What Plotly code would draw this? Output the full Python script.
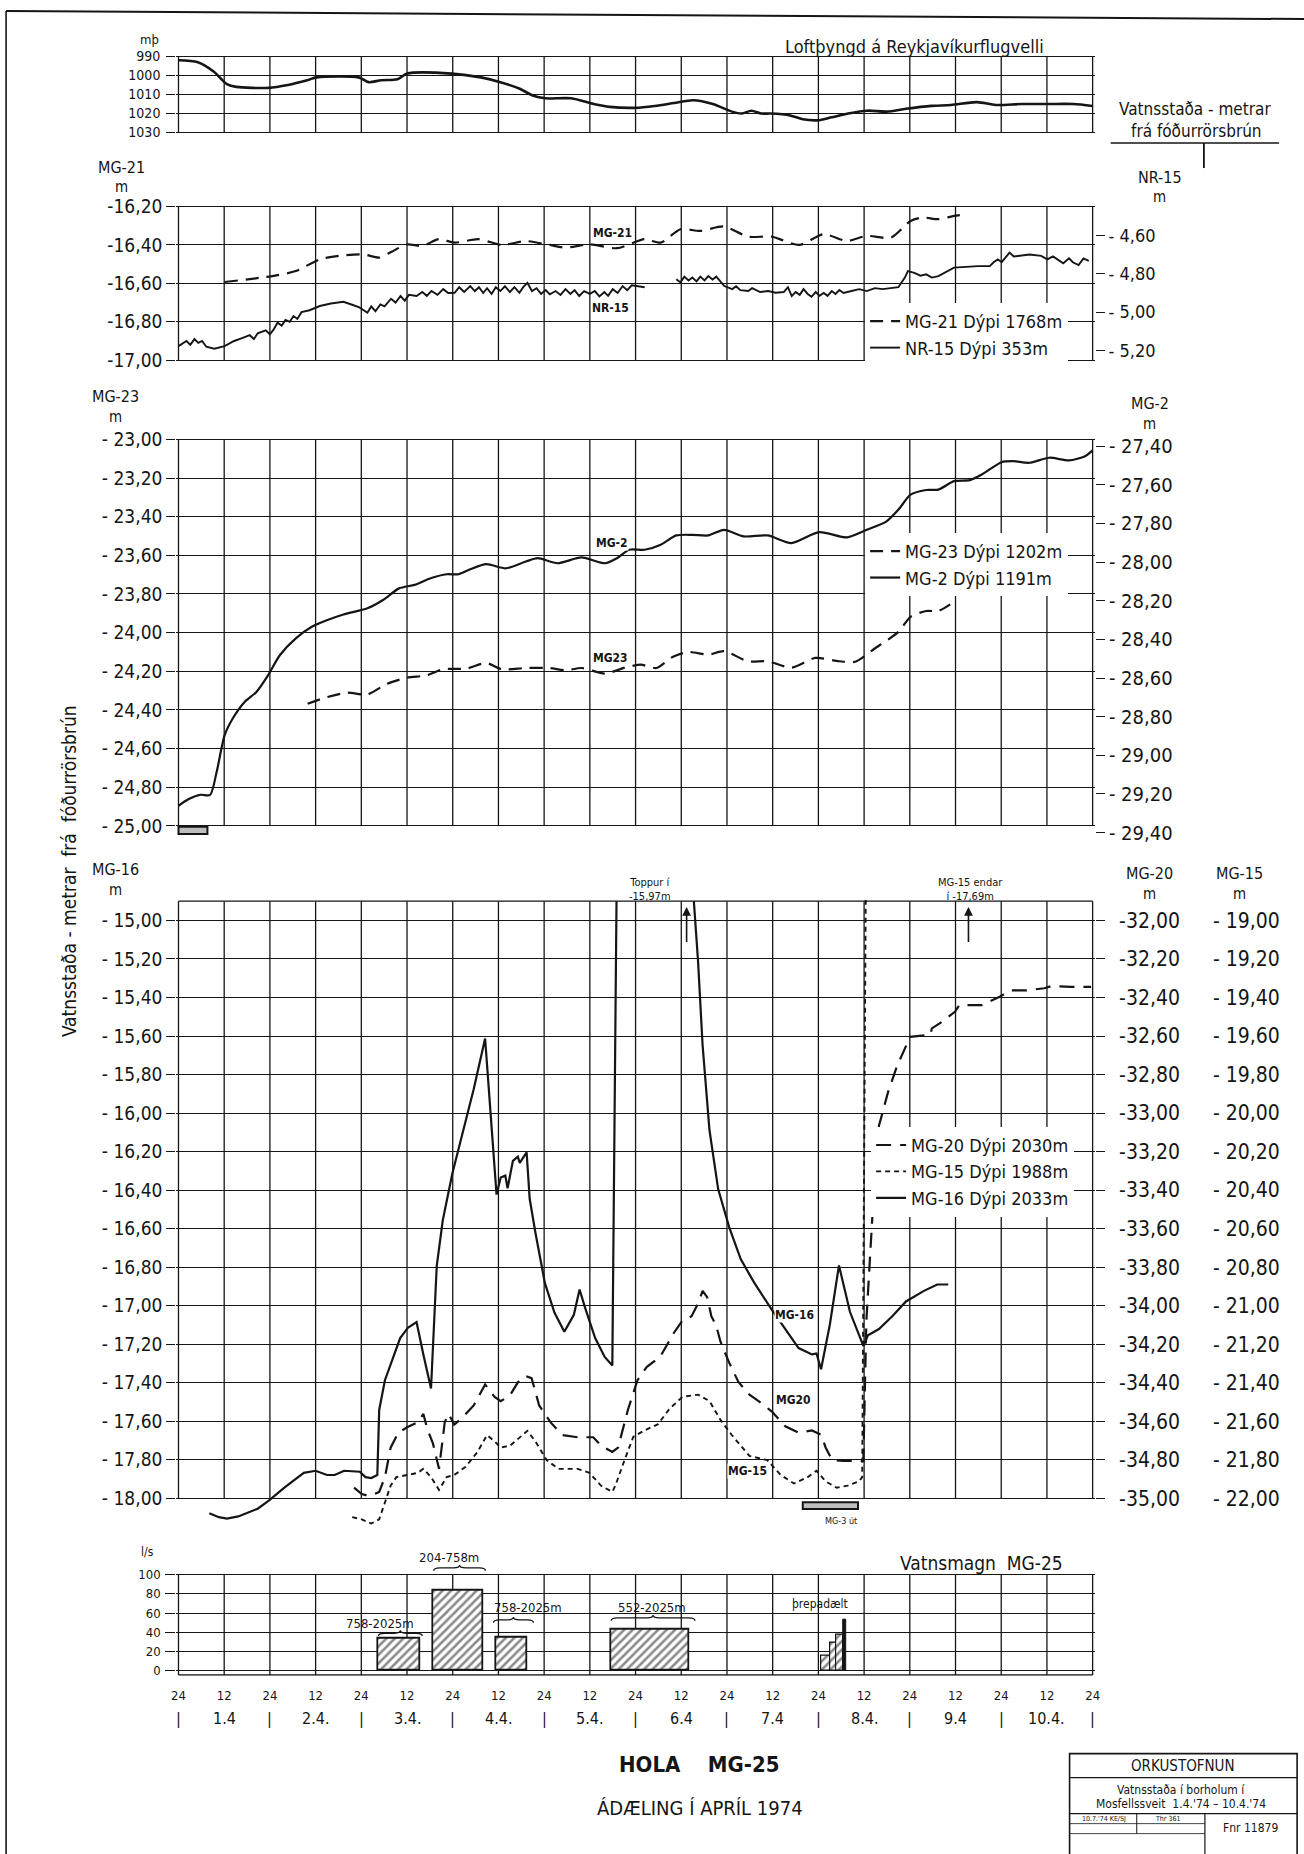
import plotly.graph_objects as go

# Page geometry: the figure sits inside the default 8 px body margin and the
# captured page comes out at about 0.99 of its layout size; positions below are
# given in final sheet pixels and converted through px()/py().
OFF = 8
S = 0.99
W, H = 1304, 1854
FONT = "DejaVu Sans Condensed, Liberation Sans Narrow, DejaVu Sans, sans-serif"
INK = "#151515"
GRID_W = 1.3
CURVE_W = 2.2

# ---------------------------------------------------------------- data ----
# time axis: hours counted from 24:00 on 31.3 to 24:00 on 10.4
hour_ticks = list(range(0, 241, 12))
hour_tick_text = ["24" if h % 24 == 0 else "12" for h in hour_ticks]
day_labels = ["1.4", "2.4.", "3.4.", "4.4.", "5.4.", "6.4", "7.4", "8.4.", "9.4", "10.4."]
day_centres = [12 + 24 * i for i in range(10)]
day_bounds = list(range(0, 241, 24))

# air pressure at Reykjavik airport, mb  (hour, value)
pressure = [(0, 992), (5.1, 993), (9.3, 998), (12.7, 1004.5), (15.2, 1006), (23.7, 1006.5),
            (28.7, 1005), (33.8, 1002.5), (36.3, 1001), (47.3, 1001), (49.9, 1003.5),
            (53.2, 1002.5), (57.5, 1002), (60.0, 999), (71.8, 999), (79.4, 1001),
            (84.5, 1003.5), (89.6, 1007), (93.0, 1010.5), (96.3, 1012), (103.1, 1012),
            (109.0, 1015), (113.2, 1016.5), (120.0, 1017), (125.1, 1016), (130.1, 1014.5),
            (135.2, 1013), (140.3, 1015), (145.3, 1019), (147.9, 1020), (150.4, 1018.5),
            (153.0, 1020), (155.5, 1020), (160.6, 1021), (163.9, 1023), (168.2, 1023.5),
            (171.5, 1022), (175.8, 1020), (180.8, 1018.5), (185.9, 1019), (191.0, 1017.5),
            (197.7, 1016), (202.8, 1015.5), (209.6, 1014), (214.6, 1015.5), (221.4, 1015),
            (228.2, 1015), (234.9, 1015), (240, 1016)]

# MG-21, depth 1768 m  (m)
mg21 = [(12.1, -16.593), (24.6, -16.562), (30.8, -16.536), (37.1, -16.475), (43.3, -16.454),
        (48.5, -16.449), (52.7, -16.466), (55.8, -16.437), (60.0, -16.397), (64.1, -16.405),
        (68.3, -16.37), (72.5, -16.388), (78.7, -16.37), (84.9, -16.40), (91.2, -16.38),
        (97.4, -16.40), (101.6, -16.414), (107.8, -16.397), (115.1, -16.417), (122.4, -16.37),
        (126.6, -16.388), (131.8, -16.318), (137.0, -16.327), (143.2, -16.304), (149.5, -16.357),
        (155.7, -16.357), (163.0, -16.40), (169.3, -16.344), (175.5, -16.379), (180.7, -16.353),
        (187.0, -16.362), (192.2, -16.275), (195.3, -16.257), (199.5, -16.266), (203.6, -16.249),
        (206.7, -16.24)]

# NR-15, depth 353 m  (m)
nr15 = [(0, -5.177), (2.1, -5.15), (3.1, -5.17), (4.2, -5.14), (5.2, -5.16), (6.2, -5.15),
        (7.3, -5.18), (9.4, -5.19), (12.1, -5.177), (14.6, -5.15), (16.7, -5.135), (18.7, -5.12),
        (19.8, -5.14), (20.8, -5.11), (22.9, -5.095), (24.0, -5.115), (25.0, -5.09), (26.0, -5.055),
        (27.1, -5.07), (28.1, -5.04), (29.2, -5.05), (30.2, -5.02), (31.2, -5.035), (32.3, -5.00),
        (34.4, -4.99), (37.1, -4.968), (40.0, -4.955), (43.3, -4.946), (45.4, -4.96), (47.5, -4.975),
        (49.6, -5.003), (50.6, -4.97), (51.7, -4.995), (53.0, -4.96), (54.1, -4.97), (55.8, -4.93),
        (57.0, -4.95), (58.3, -4.916), (59.4, -4.94), (60.5, -4.91), (62.5, -4.916), (64.0, -4.895),
        (65.2, -4.915), (66.4, -4.89), (68.0, -4.91), (69.5, -4.88), (70.8, -4.90), (72.5, -4.899),
        (73.7, -4.87), (75.0, -4.895), (76.6, -4.864), (77.8, -4.89), (78.9, -4.87), (80.0, -4.90),
        (81.0, -4.875), (82.2, -4.905), (83.3, -4.87), (84.5, -4.89), (85.7, -4.865), (87.0, -4.895),
        (88.2, -4.87), (89.5, -4.899), (90.5, -4.87), (91.6, -4.847), (92.8, -4.89), (94.0, -4.875),
        (95.2, -4.905), (96.4, -4.885), (97.5, -4.907), (99.0, -4.89), (100.3, -4.91), (101.6, -4.88),
        (102.9, -4.905), (104.0, -4.885), (105.2, -4.916), (106.5, -4.89), (108.0, -4.905),
        (109.3, -4.89), (110.5, -4.918), (111.8, -4.895), (112.8, -4.915), (114.0, -4.88),
        (115.3, -4.90), (116.6, -4.864), (117.8, -4.885), (119.0, -4.86), (122.4, -4.87),
        (None, None),
        (130.7, -4.829), (131.8, -4.845), (132.8, -4.815), (133.9, -4.835), (134.9, -4.82),
        (136.0, -4.84), (137.0, -4.815), (138.1, -4.835), (139.1, -4.812), (140.2, -4.83),
        (141.2, -4.815), (142.3, -4.84), (143.3, -4.864), (145.4, -4.88), (146.4, -4.865),
        (147.5, -4.885), (149.6, -4.89), (150.6, -4.875), (152.7, -4.895), (154.8, -4.89),
        (156.8, -4.899), (158.9, -4.895), (160.0, -4.87), (161.0, -4.916), (162.0, -4.895),
        (163.1, -4.91), (164.1, -4.88), (165.2, -4.905), (166.2, -4.92), (167.3, -4.895),
        (168.3, -4.915), (169.4, -4.90), (170.4, -4.915), (171.5, -4.89), (172.5, -4.905),
        (173.5, -4.885), (174.6, -4.90), (176.7, -4.89), (178.7, -4.88), (180.7, -4.89),
        (182.8, -4.875), (184.9, -4.88), (187.0, -4.875), (189.0, -4.87), (190.7, -4.82),
        (191.5, -4.786), (193.2, -4.795), (194.8, -4.81), (196.3, -4.803), (197.8, -4.82),
        (199.5, -4.812), (203.6, -4.768), (209.9, -4.76), (213.0, -4.76), (214.0, -4.74),
        (215.1, -4.725), (216.1, -4.74), (218.2, -4.69), (219.3, -4.71), (221.3, -4.704),
        (223.4, -4.70), (226.5, -4.707), (228.1, -4.725), (229.6, -4.71), (230.7, -4.725),
        (232.3, -4.745), (233.8, -4.72), (234.8, -4.74), (236.3, -4.755), (237.6, -4.72),
        (239.0, -4.733)]

# MG-23, depth 1202 m  (m)
mg23 = [(33.9, -24.368), (39.1, -24.333), (44.3, -24.311), (49.6, -24.32), (54.8, -24.264),
        (60.0, -24.233), (65.2, -24.221), (69.3, -24.19), (75.6, -24.186), (80.8, -24.157),
        (84.9, -24.19), (91.2, -24.183), (97.4, -24.183), (101.6, -24.195), (105.8, -24.183),
        (112.0, -24.212), (117.2, -24.181), (121.4, -24.166), (125.5, -24.183), (129.7, -24.126),
        (133.9, -24.10), (139.1, -24.114), (143.2, -24.096), (149.5, -24.148), (154.7, -24.148),
        (160.9, -24.181), (167.2, -24.131), (173.4, -24.148), (177.6, -24.151), (182.8, -24.082),
        (189.0, -23.996), (192.2, -23.918), (196.3, -23.888), (199.5, -23.888), (202.6, -23.854)]

# MG-2, depth 1191 m  (m)
mg2 = [(0, -29.261), (2.7, -29.226), (5.8, -29.204), (8.3, -29.205), (10.0, -29.088),
       (12.1, -28.897), (14.2, -28.811), (17.3, -28.725), (20.4, -28.673), (23.5, -28.586),
       (26.6, -28.482), (30.8, -28.395), (35.0, -28.335), (39.1, -28.30), (43.3, -28.271),
       (49.6, -28.239), (53.7, -28.196), (57.9, -28.136), (62.0, -28.118), (66.2, -28.084),
       (70.4, -28.063), (73.5, -28.063), (76.6, -28.037), (80.8, -28.011), (86.0, -28.032),
       (91.2, -27.997), (94.3, -27.98), (99.5, -28.006), (105.8, -27.976), (112.0, -28.006),
       (115.1, -27.98), (118.3, -27.936), (122.4, -27.936), (126.6, -27.91), (130.7, -27.862),
       (134.9, -27.859), (139.1, -27.862), (143.2, -27.833), (148.4, -27.867), (154.7, -27.862),
       (160.9, -27.902), (168.2, -27.845), (175.5, -27.872), (180.7, -27.833), (185.9, -27.789),
       (189.0, -27.729), (192.2, -27.651), (196.3, -27.627), (199.5, -27.625), (203.6, -27.581),
       (207.8, -27.576), (210.9, -27.547), (216.1, -27.483), (219.2, -27.478), (223.4, -27.486),
       (228.6, -27.46), (233.8, -27.474), (238.0, -27.452), (240.0, -27.422)]

# MG-16, depth 2033 m  (m); the peak near 5.4-6.4 runs off the top of the sheet
mg16 = [(8.1, -18.077), (10.6, -18.098), (12.7, -18.105), (15.7, -18.094), (20.8, -18.054),
        (23.8, -18.011), (27.8, -17.945), (32.9, -17.868), (36.0, -17.857), (39.0, -17.879),
        (41.0, -17.879), (43.5, -17.857), (47.6, -17.862), (49.1, -17.89), (50.6, -17.895),
        (52.2, -17.879), (52.7, -17.54), (54.2, -17.387), (56.2, -17.277), (58.2, -17.168),
        (60.3, -17.113), (62.5, -17.085), (64.3, -17.255), (66.3, -17.43), (67.8, -16.795),
        (69.4, -16.555), (71.9, -16.314), (74.4, -16.117), (77.5, -15.876), (80.5, -15.613),
        (82.0, -16.007), (83.5, -16.423), (84.6, -16.335), (85.8, -16.325), (86.4, -16.39),
        (87.8, -16.248), (89.1, -16.226), (89.6, -16.259), (91.4, -16.204), (92.2, -16.445),
        (93.7, -16.62), (96.2, -16.883), (98.7, -17.036), (101.3, -17.135), (103.8, -17.047),
        (105.3, -16.916), (106.8, -17.014), (109.4, -17.168), (111.9, -17.266), (113.9, -17.31),
        (115.0, -14.90), (None, None), (135.3, -14.90), (136.4, -15.21), (137.6, -15.648),
        (139.4, -16.088), (141.7, -16.396), (144.6, -16.593), (147.6, -16.758), (151.1, -16.879),
        (155.8, -17.022), (159.3, -17.121), (162.8, -17.22), (166.3, -17.253), (167.5, -17.248),
        (168.7, -17.33), (171.0, -17.099), (173.4, -16.791), (174.5, -16.879), (176.3, -17.033),
        (179.8, -17.209), (181.0, -17.154), (183.9, -17.121), (187.4, -17.055), (191.0, -16.978),
        (195.7, -16.923), (199.2, -16.89), (202.1, -16.89)]

# MG-20, depth 2030 m  (m)
mg20 = [(46.1, -34.945), (48.1, -34.978), (50.1, -34.989), (52.7, -34.967), (54.2, -34.89),
        (55.7, -34.737), (57.7, -34.66), (60.3, -34.628), (62.8, -34.606), (64.3, -34.562),
        (65.3, -34.639), (66.8, -34.715), (68.4, -34.847), (69.9, -34.606), (70.9, -34.562),
        (72.4, -34.617), (74.4, -34.584), (77.5, -34.518), (80.5, -34.409), (83.0, -34.474),
        (84.6, -34.496), (87.1, -34.463), (89.1, -34.398), (91.1, -34.365), (92.7, -34.376),
        (94.7, -34.518), (97.7, -34.606), (100.8, -34.672), (104.8, -34.683), (108.9, -34.683),
        (110.9, -34.726), (113.9, -34.759), (115.4, -34.737), (118.0, -34.54), (120.5, -34.387),
        (122.9, -34.319), (126.5, -34.264), (130.0, -34.143), (132.3, -34.077), (134.7, -34.055),
        (136.4, -33.989), (137.6, -33.923), (138.8, -33.956), (139.9, -34.055), (141.1, -34.099),
        (142.3, -34.187), (144.6, -34.297), (147.0, -34.396), (149.9, -34.462), (152.3, -34.495),
        (155.8, -34.55), (159.3, -34.626), (162.8, -34.659), (166.3, -34.648), (168.7, -34.67),
        (169.9, -34.736), (171.6, -34.802), (174.5, -34.806), (179.8, -34.806), (180.6, -34.077),
        (182.2, -33.527), (183.9, -33.066), (186.3, -32.89), (188.6, -32.758), (192.1, -32.604),
        (197.4, -32.593), (197.8, -32.56), (200.4, -32.527), (203.9, -32.473), (205.0, -32.44),
        (210.9, -32.44), (213.3, -32.418), (215.6, -32.396), (218.5, -32.363), (222.6, -32.363),
        (227.3, -32.352), (229.1, -32.341), (234.4, -32.345), (239.6, -32.345)]

# MG-15, depth 1988 m  (m); the record ends at -17.69 m, above the sheet
mg15 = [(45.6, -22.098), (48.1, -22.109), (50.6, -22.131), (52.7, -22.109), (54.2, -22.022),
        (55.7, -21.934), (57.2, -21.89), (60.3, -21.879), (62.8, -21.868), (64.3, -21.847),
        (66.3, -21.89), (68.4, -21.956), (70.4, -21.89), (72.4, -21.879), (75.4, -21.836),
        (78.5, -21.759), (81.0, -21.672), (83.0, -21.704), (84.6, -21.737), (87.1, -21.726),
        (89.6, -21.683), (91.6, -21.65), (93.7, -21.704), (96.7, -21.803), (99.8, -21.847),
        (104.8, -21.847), (107.9, -21.868), (110.9, -21.934), (113.9, -21.967), (114.7, -21.934),
        (117.1, -21.802), (119.4, -21.681), (122.3, -21.648), (125.9, -21.615), (128.8, -21.538),
        (132.3, -21.473), (136.4, -21.462), (139.4, -21.495), (142.3, -21.593), (145.2, -21.67),
        (149.9, -21.78), (154.6, -21.802), (158.1, -21.879), (161.6, -21.923), (165.2, -21.89),
        (167.5, -21.857), (169.9, -21.912), (172.8, -21.945), (175.7, -21.934), (178.7, -21.912),
        (179.5, -21.89), (180.8, -17.69)]

# discharge of MG-25 (l/s) with the production interval
pump_ranges = ["758-2025m", "204-758m", "758-2025m", "552-2025m"]
pump_start = [52.5, 67.0, 83.3, 113.7]
pump_end = [63.5, 80.0, 91.5, 134.2]
pump_flow = [33, 83, 34, 43]
# step test on 8.4
step_start = [168.7, 171.0, 172.8]
step_end = [171.0, 172.8, 174.4]
step_flow = [16, 29, 38]
step_top_start, step_top_end, step_top_flow = 174.4, 175.3, 53

# periods when neighbouring wells were out of use (hours)
mg7_out = (0.0, 7.6)
mg3_out = (163.9, 178.4)


# ------------------------------------------------------------- helpers ----
def unzip(pairs):
    return [p[0] for p in pairs], [p[1] for p in pairs]


def comma(v, spaced=True):
    s = f"{abs(v):.2f}".replace(".", ",")
    return ("- " if spaced else "-") + s


def px(x):
    """sheet x pixel -> paper fraction"""
    return (x / S - OFF) / W


def py(y):
    """sheet y pixel -> paper fraction"""
    return 1 - (y / S - OFF) / H


def ydom(v1, p1, v2, p2, lo, hi):
    """paper domain for an axis whose value v1 sits at sheet row p1 and v2 at p2"""
    k = (p2 - p1) / (v2 - v1)
    a = p1 + (lo - v1) * k
    b = p1 + (hi - v1) * k
    return [py(max(a, b)), py(min(a, b))]


XR = [-0.6, 240.6]
X0, X1 = 181.0, 1093.0
PPH = (X1 - X0) / 240.0
XDOM = [px(X0 + XR[0] * PPH), px(X0 + XR[1] * PPH)]

# panel ranges (padded a touch so border lines are not clipped)
R1 = [1031, 989]
R2 = [-17.006, -16.194]
R3 = [-25.065, -22.994]
R4 = [-18.165, -14.893]
R5 = [-5.2, 124]
NR15_SHIFT = 11.75
MG2_SHIFT = -4.365
MG20_SHIFT = -17.0
MG15_SHIFT = -4.0

D1 = ydom(990, 54.4, 1030, 130.5, min(R1), max(R1))
D2 = ydom(-16.2, 204.5, -17.0, 358.2, *R2)
D3 = ydom(-23.0, 437.4, -25.0, 824.0, *R3)
D4 = ydom(-15.0, 918.6, -18.0, 1496.6, *R4)
D5 = ydom(100, 1573.0, 0, 1669.0, *R5)

fig = go.Figure()

x, y = unzip(pressure)
fig.add_trace(go.Scatter(x=x, y=y, xaxis="x", yaxis="y", mode="lines", showlegend=False,
                         line=dict(color=INK, width=2.6, shape="spline", smoothing=0.8)))

x, y = unzip(mg21)
fig.add_trace(go.Scatter(x=x, y=y, xaxis="x2", yaxis="y2", mode="lines",
                         name="MG-21 Dýpi 1768m", legend="legend",
                         line=dict(color=INK, width=CURVE_W, dash="13px,8px", shape="spline",
                                   smoothing=0.7)))
x, y = unzip(nr15)
fig.add_trace(go.Scatter(x=x, y=y, xaxis="x2", yaxis="y3", mode="lines",
                         name="NR-15 Dýpi 353m", legend="legend",
                         line=dict(color=INK, width=1.9)))

x, y = unzip(mg23)
fig.add_trace(go.Scatter(x=x, y=y, xaxis="x3", yaxis="y4", mode="lines",
                         name="MG-23 Dýpi 1202m", legend="legend2",
                         line=dict(color=INK, width=CURVE_W, dash="13px,8px", shape="spline",
                                   smoothing=0.7)))
x, y = unzip(mg2)
fig.add_trace(go.Scatter(x=x, y=y, xaxis="x3", yaxis="y5", mode="lines",
                         name="MG-2 Dýpi 1191m", legend="legend2",
                         line=dict(color=INK, width=CURVE_W, shape="spline", smoothing=0.7)))

x, y = unzip(mg20)
fig.add_trace(go.Scatter(x=x, y=y, xaxis="x4", yaxis="y7", mode="lines",
                         name="MG-20 Dýpi 2030m", legend="legend3",
                         line=dict(color=INK, width=CURVE_W, dash="15px,9px")))
x, y = unzip(mg15)
fig.add_trace(go.Scatter(x=x, y=y, xaxis="x4", yaxis="y8", mode="lines",
                         name="MG-15 Dýpi 1988m", legend="legend3",
                         line=dict(color=INK, width=1.9, dash="5px,4px")))
x, y = unzip(mg16)
fig.add_trace(go.Scatter(x=x, y=y, xaxis="x4", yaxis="y6", mode="lines",
                         name="MG-16 Dýpi 2033m", legend="legend3",
                         line=dict(color=INK, width=CURVE_W)))

hatch = dict(shape="/", fgcolor=INK, bgcolor="white", size=6, solidity=0.42)
fig.add_trace(go.Bar(
    x=[(a + b) / 2 for a, b in zip(pump_start, pump_end)], y=pump_flow,
    width=[b - a for a, b in zip(pump_start, pump_end)], base=0,
    xaxis="x5", yaxis="y9", showlegend=False,
    marker=dict(color="white", line=dict(color=INK, width=1.8), pattern=hatch)))
fig.add_trace(go.Bar(
    x=[(a + b) / 2 for a, b in zip(step_start, step_end)], y=step_flow,
    width=[b - a for a, b in zip(step_start, step_end)], base=0,
    xaxis="x5", yaxis="y9", showlegend=False,
    marker=dict(color="white", line=dict(color=INK, width=1.2), pattern=hatch)))
fig.add_trace(go.Bar(
    x=[(step_top_start + step_top_end) / 2], y=[step_top_flow],
    width=[step_top_end - step_top_start], base=0,
    xaxis="x5", yaxis="y9", showlegend=False,
    marker=dict(color=INK, line=dict(color=INK, width=1))))

# ------------------------------------------------------------- axes ----
tickfont = dict(family=FONT, size=19, color=INK)
base_x = dict(range=XR, domain=XDOM, showgrid=False, zeroline=False, showline=False,
              showticklabels=False, ticks="", fixedrange=True)
base_y = dict(showgrid=True, gridcolor=INK, gridwidth=GRID_W, zeroline=False, showline=False,
              ticks="outside", ticklen=9, tickwidth=GRID_W, tickcolor=INK, tickfont=tickfont,
              fixedrange=True)

t1 = [990, 1000, 1010, 1020, 1030]
t2 = [round(-16.2 - 0.2 * i, 2) for i in range(5)]
t2r = [round(-4.6 - 0.2 * i, 2) for i in range(4)]
t3 = [round(-23.0 - 0.2 * i, 2) for i in range(11)]
t3r = [round(-27.4 - 0.2 * i, 2) for i in range(11)]
t4 = [round(-15.0 - 0.2 * i, 2) for i in range(16)]
t4a = [round(-32.0 - 0.2 * i, 2) for i in range(16)]
t4b = [round(-19.0 - 0.2 * i, 2) for i in range(16)]
t5 = [0, 20, 40, 60, 80, 100]

fig.update_layout(
    xaxis=dict(base_x, anchor="y"),
    xaxis2=dict(base_x, anchor="y2"),
    xaxis3=dict(base_x, anchor="y4"),
    xaxis4=dict(base_x, anchor="y6"),
    xaxis5=dict(base_x, anchor="y9", showticklabels=True, tickvals=hour_ticks,
                ticktext=hour_tick_text, ticklabelstandoff=10,
                tickfont=dict(family=FONT, size=13, color=INK)),
    yaxis=dict(base_y, domain=D1, anchor="x", range=R1, tickvals=t1,
               ticktext=[str(v) for v in t1], tickfont=dict(family=FONT, size=14, color=INK),
               ticklabelstandoff=3),
    yaxis2=dict(base_y, domain=D2, anchor="x2", range=R2, tickvals=t2,
                ticktext=[comma(v, False) for v in t2]),
    yaxis3=dict(base_y, overlaying="y2", anchor="x2", side="right", showgrid=False,
                range=[R2[0] + NR15_SHIFT, R2[1] + NR15_SHIFT], tickvals=t2r,
                ticktext=[comma(v) for v in t2r], tickfont=dict(family=FONT, size=18, color=INK)),
    yaxis4=dict(base_y, domain=D3, anchor="x3", range=R3, tickvals=t3,
                ticktext=[comma(v) for v in t3]),
    yaxis5=dict(base_y, overlaying="y4", anchor="x3", side="right", showgrid=False,
                range=[R3[0] + MG2_SHIFT, R3[1] + MG2_SHIFT], tickvals=t3r,
                ticktext=[comma(v) for v in t3r], tickfont=dict(family=FONT, size=20, color=INK)),
    yaxis6=dict(base_y, domain=D4, anchor="x4", range=R4, tickvals=t4,
                ticktext=[comma(v) for v in t4]),
    yaxis7=dict(base_y, overlaying="y6", anchor="x4", side="right", showgrid=False,
                range=[R4[0] + MG20_SHIFT, R4[1] + MG20_SHIFT], tickvals=t4a,
                ticktext=[comma(v, False) for v in t4a], ticklabelstandoff=10,
                tickfont=dict(family=FONT, size=21, color=INK)),
    yaxis8=dict(base_y, overlaying="y6", anchor="free", position=px(1212), side="right",
                showgrid=False, ticks="", range=[R4[0] + MG15_SHIFT, R4[1] + MG15_SHIFT],
                tickvals=t4b, ticktext=[comma(v) for v in t4b],
                tickfont=dict(family=FONT, size=21, color=INK)),
    yaxis9=dict(base_y, domain=D5, anchor="x5", range=R5, tickvals=t5,
                ticktext=[str(v) for v in t5], tickfont=dict(family=FONT, size=13, color=INK),
                ticklen=10, ticklabelstandoff=2),
)

legend_style = dict(xanchor="left", yanchor="top", bgcolor="white", borderwidth=0,
                    font=dict(family=FONT, size=18, color=INK), itemwidth=30,
                    tracegroupgap=0, traceorder="normal")
fig.update_layout(
    legend=dict(legend_style, x=px(866), y=py(301)),
    legend2=dict(legend_style, x=px(866), y=py(531)),
    legend3=dict(legend_style, x=px(872), y=py(1125)),
)

# ------------------------------------------------------------ shapes ----
shapes = []
panels = [("x", "y", 990, 1030), ("x2", "y2", -17.0, -16.2), ("x3", "y4", -25.0, -23.0),
          ("x4", "y6", -18.0, -14.9), ("x5", "y9", -4.5, 100)]
for xr, yr, lo, hi in panels:
    for h in hour_ticks:
        shapes.append(dict(type="line", xref=xr, yref=yr, x0=h, x1=h, y0=lo, y1=hi,
                           line=dict(color=INK, width=GRID_W), layer="below"))
# borders not covered by grid lines
shapes.append(dict(type="line", xref="x4", yref="y6", x0=0, x1=240, y0=-14.9, y1=-14.9,
                   line=dict(color=INK, width=GRID_W)))
shapes.append(dict(type="line", xref="x5", yref="y9", x0=0, x1=240, y0=-4.5, y1=-4.5,
                   line=dict(color=INK, width=GRID_W)))

# wells out of use
shapes.append(dict(type="rect", xref="x3", yref="y4", x0=mg7_out[0], x1=mg7_out[1],
                   y0=-25.005, y1=-25.042, line=dict(color=INK, width=2), fillcolor="#bdbdbd"))
shapes.append(dict(type="rect", xref="x4", yref="y6", x0=mg3_out[0], x1=mg3_out[1],
                   y0=-18.02, y1=-18.056, line=dict(color=INK, width=2), fillcolor="#bdbdbd"))


def brace(x0, x1, y_end, y_mid, y_tip):
    xm = (x0 + x1) / 2
    w = min(1.6, (x1 - x0) / 6)
    return (f"M {x0},{y_end} Q {x0},{y_mid} {x0 + w},{y_mid} L {xm - w},{y_mid} "
            f"Q {xm},{y_mid} {xm},{y_tip} Q {xm},{y_mid} {xm + w},{y_mid} "
            f"L {x1 - w},{y_mid} Q {x1},{y_mid} {x1},{y_end}")


brace_levels = [(36, 39, 42), (104, 107, 110), (50, 53, 56), (52, 55, 58)]
brace_spans = [(52.5, 64.0), (67.0, 80.6), (82.7, 93.2), (113.6, 135.6)]
for (a, b), (ye, ym, yt) in zip(brace_spans, brace_levels):
    shapes.append(dict(type="path", xref="x5", yref="y9", path=brace(a, b, ye, ym, yt),
                       line=dict(color=INK, width=1.3)))

# sheet frame, label underline and title block
paper_lines = [
    ((9, 9), (1304, 17), 2.0), ((9, 9), (9, 1860), 1.6),
    ((1111, 141), (1279, 141), 1.5), ((1204, 141), (1204, 166), 1.8),
    ((1070, 1776), (1297, 1776), 1.3), ((1070, 1812), (1297, 1812), 1.3),
    ((1205, 1812), (1205, 1860), 1.2), ((1137, 1812), (1137, 1832), 1.0),
    ((1070, 1822), (1205, 1822), 0.8), ((1070, 1832), (1205, 1832), 0.8),
]
for (xa, ya), (xb, yb), wd in paper_lines:
    shapes.append(dict(type="line", xref="paper", yref="paper", x0=px(xa), y0=py(ya),
                       x1=px(xb), y1=py(yb), line=dict(color=INK, width=wd)))
shapes.append(dict(type="rect", xref="paper", yref="paper", x0=px(1070), x1=px(1297),
                   y0=py(1870), y1=py(1752), line=dict(color=INK, width=1.6)))
fig.update_layout(shapes=shapes)

# ------------------------------------------------------- annotations ----
ann = []


def text(xv, yv, s, size, xref="paper", yref="paper", **kw):
    d = dict(x=xv, y=yv, xref=xref, yref=yref, text=s, showarrow=False,
             xanchor="center", yanchor="middle", borderpad=0,
             font=dict(family=kw.pop("family", FONT), size=size, color=INK))
    d.update(kw)
    ann.append(d)


# axis headings: well name with unit beneath
headings = [("MG-21", 124, 165, 185), ("NR-15", 1160, 175, 195),
            ("MG-23", 118, 395, 415), ("MG-2", 1150, 402, 422), ("MG-16", 118, 868, 888),
            ("MG-20", 1150, 872, 892), ("MG-15", 1240, 872, 892)]
for name, hx, hy, my in headings:
    text(px(hx), py(hy), name, 16)
    text(px(hx), py(my), "m", 15)
text(px(152), py(37), "mþ", 13)
text(px(150), py(1550), "l/s", 12)

text(px(915), py(44), "Loftþyngd á Reykjavíkurflugvelli", 18)
text(px(1195), py(107), "Vatnsstaða - metrar", 17)
text(px(1197), py(129), "frá fóðurrörsbrún", 17)
text(px(72), py(869), "Vatnsstaða - metrar  frá  fóðurrörsbrún", 19, textangle=-90)

# curve labels
lab = dict(bgcolor="white")
text(114, -16.34, "<b>MG-21</b>", 12, "x2", "y2", **lab)
text(113.5, -16.73, "<b>NR-15</b>", 12, "x2", "y2", **lab)
text(113.8, -23.535, "<b>MG-2</b>", 12, "x3", "y4", **lab)
text(113.4, -24.13, "<b>MG23</b>", 12, "x3", "y4", **lab)
text(161.8, -17.05, "<b>MG-16</b>", 12, "x4", "y6", **lab)
text(161.5, -17.49, "<b>MG20</b>", 12, "x4", "y6", **lab)
text(149.4, -17.86, "<b>MG-15</b>", 12, "x4", "y6", **lab)
text(3.8, -25.11, "MG-7 út", 9, "x3", "y4")
text(174.0, -18.118, "MG-3 út", 9, "x4", "y6")

text(123.7, py(888), "Toppur í<br>-15,97m", 11, "x4", "paper")
text(208.0, py(888), "MG-15 endar<br>í -17,69m", 11, "x4", "paper")
for hx in (133.4, 207.4):
    ann.append(dict(x=hx, y=-14.93, ax=hx, ay=-15.12, xref="x4", yref="y6", axref="x4",
                    ayref="y6", text="", showarrow=True, arrowhead=2, arrowsize=1.1,
                    arrowwidth=1.6, arrowcolor=INK))

# discharge panel
text(px(982), py(1561), "Vatnsmagn  MG-25", 19)
text(53.0, 49, pump_ranges[0], 13, "x5", "y9")
text(71.0, 118, pump_ranges[1], 13, "x5", "y9")
text(91.8, 66, pump_ranges[2], 13, "x5", "y9")
text(124.3, 66, pump_ranges[3], 13, "x5", "y9")
text(168.5, 69, "þrepadælt", 12, "x5", "y9")
text(242.4, py(1690), "klst", 10, "x5", "paper", xanchor="left")
for h in day_bounds:
    text(h, py(1717), "|", 16, "x5", "paper")
for h, s in zip(day_centres, day_labels):
    text(h, py(1717), s, 16, "x5", "paper")
text(244.4, py(1719), "dagar", 10, "x5", "paper", xanchor="left")

# titles
text(px(701), py(1763), "<b>HOLA    MG-25</b>", 22)
text(px(701), py(1806), "ÁDÆLING Í APRÍL 1974", 20)

# title block
text(px(1183), py(1764), "ORKUSTOFNUN", 15)
text(px(1181), py(1788), "Vatnsstaða í borholum í", 12)
text(px(1181), py(1802), "Mosfellssveit  1.4.'74 – 10.4.'74", 12)
text(px(1104), py(1817), "10.7.'74 KE/SJ", 7)
text(px(1168), py(1817), "Thr 361", 7)
text(px(1250), py(1826), "Fnr 11879", 12)

fig.update_layout(annotations=ann)

fig.update_layout(
    width=W, height=H, autosize=False,
    margin=dict(l=0, r=0, t=0, b=0),
    paper_bgcolor="white", plot_bgcolor="white",
    font=dict(family=FONT, color=INK),
    bargap=0, barmode="overlay",
)

fig.write_html("out.html")
